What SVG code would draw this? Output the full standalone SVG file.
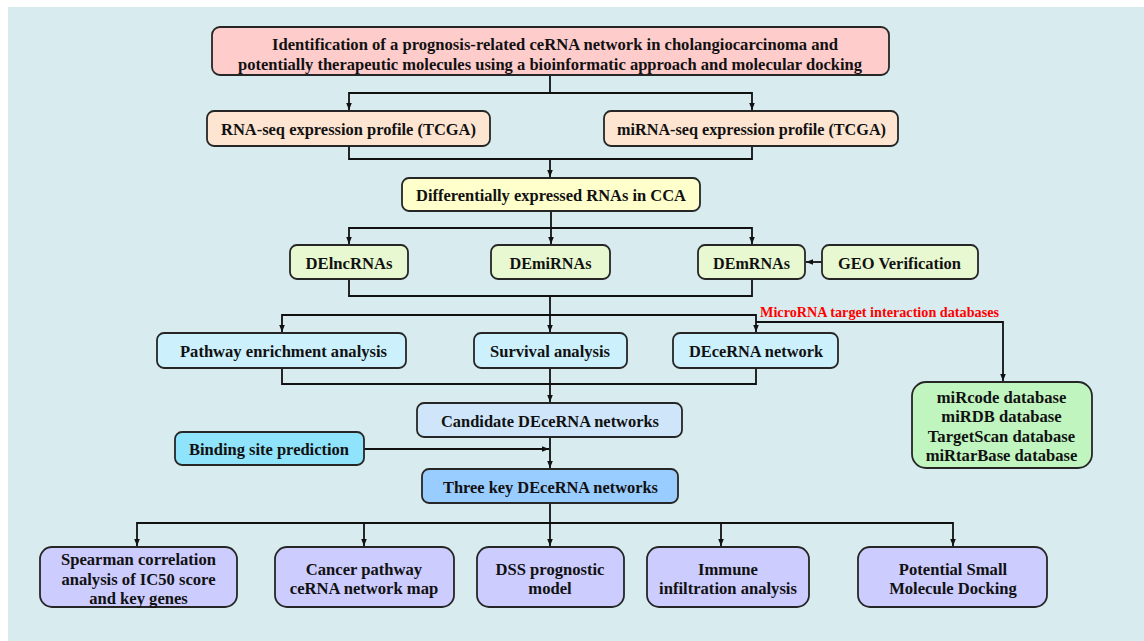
<svg xmlns="http://www.w3.org/2000/svg" width="1144" height="641" viewBox="0 0 1144 641">
<style>
.bx{stroke:#262626;stroke-width:1.8}
.t{font-family:"Liberation Serif","Times New Roman",serif;font-weight:bold;font-size:17.5px;fill:#111;text-anchor:middle}
.b{font-family:"Liberation Serif","Times New Roman",serif;font-weight:bold;font-size:16.6px;fill:#111;text-anchor:middle}
.red{font-family:"Liberation Serif","Times New Roman",serif;font-weight:bold;font-size:15px;fill:#ff0000;text-anchor:middle}
.c{fill:none;stroke:#111;stroke-width:1.8}
</style>
<defs>
<marker id="ah" viewBox="0 0 10 10" refX="10" refY="5" markerWidth="7" markerHeight="8" markerUnits="userSpaceOnUse" orient="auto"><path d="M0,1 L10,5 L0,9 z" fill="#111"/></marker>
</defs>
<rect x="0" y="0" width="1144" height="641" fill="#ffffff"/>
<rect x="8" y="7" width="1136" height="634" fill="#d8ebee"/>

<g id="connectors">
<path class="c" d="M550,75 V93 H349 V110" marker-end="url(#ah)"/>
<path class="c" d="M550,93 H752 V110" marker-end="url(#ah)"/>
<path class="c" d="M349,146 V159 H752 V146"/>
<path class="c" d="M550,159 V177" marker-end="url(#ah)"/>
<path class="c" d="M551,211 V228 H349 V244" marker-end="url(#ah)"/>
<path class="c" d="M551,228 V244" marker-end="url(#ah)"/>
<path class="c" d="M551,228 H752 V244" marker-end="url(#ah)"/>
<path class="c" d="M822,262 H806" marker-end="url(#ah)"/>
<path class="c" d="M349,279 V296 H752 V279"/>
<path class="c" d="M550,296 V315 H282 V332" marker-end="url(#ah)"/>
<path class="c" d="M550,315 V332" marker-end="url(#ah)"/>
<path class="c" d="M550,315 H756 V332" marker-end="url(#ah)"/>
<path class="c" d="M756,322 H1003 V381" marker-end="url(#ah)"/>
<path class="c" d="M282,368 V384 H756 V368"/>
<path class="c" d="M550,368 V402" marker-end="url(#ah)"/>
<path class="c" d="M550,437 V468" marker-end="url(#ah)"/>
<path class="c" d="M364,449 H549" marker-end="url(#ah)"/>
<path class="c" d="M550,503 V523 H137 V546" marker-end="url(#ah)"/>
<path class="c" d="M364,523 V546" marker-end="url(#ah)"/>
<path class="c" d="M550,523 V546" marker-end="url(#ah)"/>
<path class="c" d="M550,523 H953 V546" marker-end="url(#ah)"/>
<path class="c" d="M721,523 V546" marker-end="url(#ah)"/>
<text class="red" x="879.5" y="317" textLength="239" lengthAdjust="spacingAndGlyphs">MicroRNA target interaction databases</text>
</g>

<g id="title">
<rect class="bx" x="212" y="27" width="677" height="48" rx="8" fill="#ffcccc"/>
<text class="t" x="555" y="50" textLength="566" lengthAdjust="spacingAndGlyphs">Identification of a prognosis-related ceRNA network in cholangiocarcinoma and</text>
<text class="t" x="550" y="70" textLength="624" lengthAdjust="spacingAndGlyphs">potentially therapeutic molecules using a bioinformatic approach and molecular docking</text>
</g>
<g id="rnaseq">
<rect class="bx" x="207" y="111" width="283" height="35" rx="7" fill="#fde5d2"/>
<text class="t" x="348.5" y="135" textLength="255" lengthAdjust="spacingAndGlyphs">RNA-seq expression profile (TCGA)</text>
</g>
<g id="mirnaseq">
<rect class="bx" x="604" y="111" width="294" height="35" rx="7" fill="#fde5d2"/>
<text class="t" x="751.5" y="135" textLength="269" lengthAdjust="spacingAndGlyphs">miRNA-seq expression profile (TCGA)</text>
</g>
<g id="diffexp">
<rect class="bx" x="402" y="178" width="298" height="33" rx="7" fill="#ffffcc"/>
<text class="t" x="551" y="201" textLength="270" lengthAdjust="spacingAndGlyphs">Differentially expressed RNAs in CCA</text>
</g>
<g id="delnc">
<rect class="bx" x="290" y="245" width="118" height="34" rx="7" fill="#e8f9d2"/>
<text class="t" x="349" y="268.5" textLength="87" lengthAdjust="spacingAndGlyphs">DElncRNAs</text>
</g>
<g id="demi">
<rect class="bx" x="491" y="245" width="119" height="34" rx="7" fill="#e8f9d2"/>
<text class="t" x="550.5" y="268.5" textLength="82" lengthAdjust="spacingAndGlyphs">DEmiRNAs</text>
</g>
<g id="dem">
<rect class="bx" x="698" y="245" width="107" height="34" rx="7" fill="#e8f9d2"/>
<text class="t" x="751.5" y="268.5" textLength="77" lengthAdjust="spacingAndGlyphs">DEmRNAs</text>
</g>
<g id="geo">
<rect class="bx" x="822" y="245" width="156" height="34" rx="7" fill="#e8f9d2"/>
<text class="t" x="899.5" y="268.5" textLength="123" lengthAdjust="spacingAndGlyphs">GEO Verification</text>
</g>
<g id="pathway">
<rect class="bx" x="157" y="333" width="249" height="35" rx="7" fill="#ccf0fc"/>
<text class="t" x="283.5" y="357" textLength="207" lengthAdjust="spacingAndGlyphs">Pathway enrichment analysis</text>
</g>
<g id="survival">
<rect class="bx" x="474" y="333" width="153" height="35" rx="7" fill="#ccf0fc"/>
<text class="t" x="550" y="357" textLength="120" lengthAdjust="spacingAndGlyphs">Survival analysis</text>
</g>
<g id="decerna">
<rect class="bx" x="673" y="333" width="165" height="35" rx="7" fill="#ccf0fc"/>
<text class="t" x="756" y="357" textLength="134" lengthAdjust="spacingAndGlyphs">DEceRNA network</text>
</g>
<g id="databases">
<rect class="bx" x="912" y="382" width="180" height="86" rx="14" fill="#c0f5c0"/>
<text class="b" x="1001.5" y="402.5">miRcode database</text>
<text class="b" x="1001.5" y="422">miRDB database</text>
<text class="b" x="1001.5" y="442">TargetScan database</text>
<text class="b" x="1001.5" y="461">miRtarBase database</text>
</g>
<g id="candidate">
<rect class="bx" x="417" y="403" width="265" height="34" rx="7" fill="#cfe6fa"/>
<text class="t" x="550" y="426.5" textLength="218" lengthAdjust="spacingAndGlyphs">Candidate DEceRNA networks</text>
</g>
<g id="binding">
<rect class="bx" x="175" y="432" width="189" height="33" rx="7" fill="#8fe3fa"/>
<text class="t" x="269" y="455" textLength="160" lengthAdjust="spacingAndGlyphs">Binding site prediction</text>
</g>
<g id="threekey">
<rect class="bx" x="422" y="469" width="256" height="34" rx="7" fill="#99ccff"/>
<text class="t" x="550.5" y="492.5" textLength="215" lengthAdjust="spacingAndGlyphs">Three key DEceRNA networks</text>
</g>
<g id="spearman">
<rect class="bx" x="40" y="547" width="197" height="60" rx="12" fill="#ccccff"/>
<text class="b" x="138.5" y="565">Spearman correlation</text>
<text class="b" x="138.5" y="584.5">analysis of IC50 score</text>
<text class="b" x="138.5" y="603.5">and key genes</text>
</g>
<g id="cancer">
<rect class="bx" x="275" y="547" width="179" height="60" rx="12" fill="#ccccff"/>
<text class="b" x="364" y="574.5">Cancer pathway</text>
<text class="b" x="364" y="593.5">ceRNA network map</text>
</g>
<g id="dss">
<rect class="bx" x="477" y="547" width="147" height="60" rx="12" fill="#ccccff"/>
<text class="b" x="550" y="574.5">DSS prognostic</text>
<text class="b" x="550" y="593.5">model</text>
</g>
<g id="immune">
<rect class="bx" x="647" y="547" width="162" height="60" rx="12" fill="#ccccff"/>
<text class="b" x="728" y="574.5">Immune</text>
<text class="b" x="728" y="593.5">infiltration analysis</text>
</g>
<g id="docking">
<rect class="bx" x="858" y="547" width="189" height="60" rx="12" fill="#ccccff"/>
<text class="b" x="953" y="574.5">Potential Small</text>
<text class="b" x="953" y="593.5">Molecule Docking</text>
</g>
</svg>
